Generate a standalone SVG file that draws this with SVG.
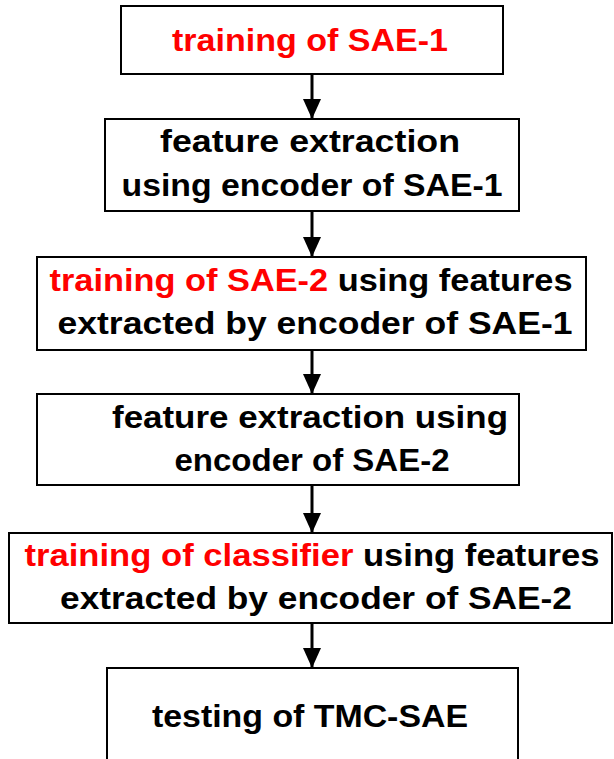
<svg xmlns="http://www.w3.org/2000/svg" width="614" height="759" viewBox="0 0 614 759">
<style>
.box{fill:#fff;stroke:#000;stroke-width:2}
.t{font-family:"Liberation Sans",Arial,sans-serif;font-weight:bold;font-size:32px;fill:#000;text-anchor:middle}
.r{fill:#ff0000}
.c{stroke:#000;stroke-width:3;fill:none}
</style>
<defs>
<marker id="ah" markerUnits="userSpaceOnUse" markerWidth="20" markerHeight="20" viewBox="0 0 20 20" refX="20" refY="10" orient="auto">
<path d="M0,1 L20,10 L0,19 Z" fill="#000"/>
</marker>
</defs>
<g id="n1"><rect class="box" x="121" y="6" width="382" height="68"/>
<text class="t" x="310" y="51" textLength="276" lengthAdjust="spacingAndGlyphs"><tspan class="r">training of SAE-1</tspan></text></g>
<g id="n2"><rect class="box" x="105" y="119" width="414" height="92"/>
<text class="t" x="310" y="152" textLength="300" lengthAdjust="spacingAndGlyphs">feature extraction</text>
<text class="t" x="312" y="196" textLength="381" lengthAdjust="spacingAndGlyphs">using encoder of SAE-1</text></g>
<g id="n3"><rect class="box" x="37" y="257" width="549" height="93"/>
<text class="t" x="311" y="291" textLength="523" lengthAdjust="spacingAndGlyphs"><tspan class="r">training of SAE-2</tspan> using features</text>
<text class="t" x="315" y="334" textLength="515" lengthAdjust="spacingAndGlyphs">extracted by encoder of SAE-1</text></g>
<g id="n4"><rect class="box" x="37" y="394" width="482" height="91"/>
<text class="t" x="310" y="428" textLength="396" lengthAdjust="spacingAndGlyphs">feature extraction using</text>
<text class="t" x="312" y="471" textLength="275" lengthAdjust="spacingAndGlyphs">encoder of SAE-2</text></g>
<g id="n5"><rect class="box" x="9" y="533" width="603" height="90"/>
<text class="t" x="312" y="566" textLength="575" lengthAdjust="spacingAndGlyphs"><tspan class="r">training of classifier</tspan> using features</text>
<text class="t" x="316" y="609" textLength="512" lengthAdjust="spacingAndGlyphs">extracted by encoder of SAE-2</text></g>
<g id="n6"><rect class="box" x="107" y="668" width="411" height="110"/>
<text class="t" x="310" y="727" textLength="316" lengthAdjust="spacingAndGlyphs">testing of TMC-SAE</text></g>
<g id="connectors">
<line class="c" x1="312" y1="74" x2="312" y2="119" marker-end="url(#ah)"/>
<line class="c" x1="312" y1="211" x2="312" y2="257" marker-end="url(#ah)"/>
<line class="c" x1="312" y1="350" x2="312" y2="394" marker-end="url(#ah)"/>
<line class="c" x1="312" y1="485" x2="312" y2="533" marker-end="url(#ah)"/>
<line class="c" x1="312" y1="623" x2="312" y2="668" marker-end="url(#ah)"/>
</g>
</svg>
